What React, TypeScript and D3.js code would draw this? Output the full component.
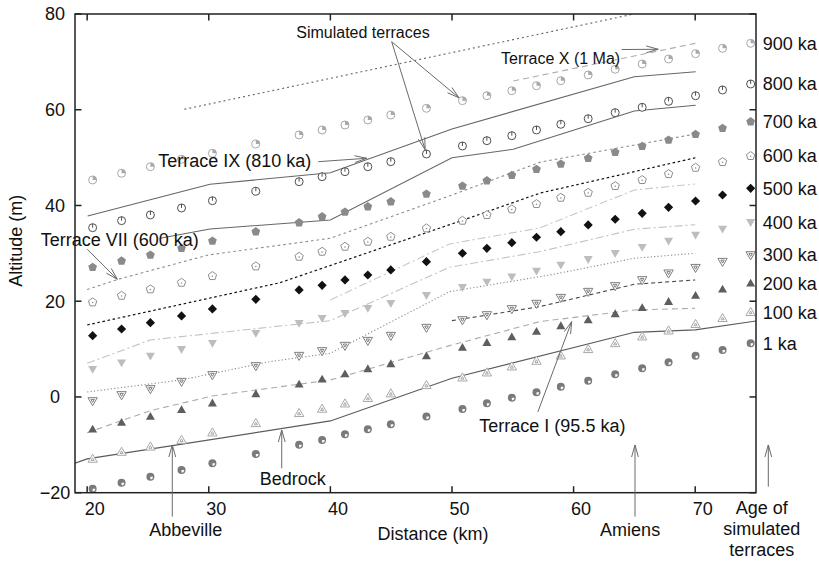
import React from "react";
import * as d3 from "d3";

const WIDTH = 819;
const HEIGHT = 562;
const FRAME = { left: 75, right: 756, top: 14, bottom: 492.7 };
const FONT = "'Liberation Sans', Arial, Helvetica, sans-serif";

// Axis ticks
const distanceTicks = [20, 30, 40, 50, 60, 70];
const altitudeTicks = [-20, 0, 20, 40, 60, 80];

// Model nodes along the valley (km)
const nodeKm = [
  20.45, 22.83, 25.2, 27.76, 30.3, 33.87, 37.43, 39.32, 41.2, 43.08, 44.97, 47.9,
  50.86, 52.87, 54.92, 56.95, 58.95, 61.2, 63.42, 65.64, 67.81, 70.03, 72.25, 74.56,
];

// Simulated terrace altitudes (m) at each node, by age
const sim1ka = [
  -19.2, -17.9, -16.65, -15.25, -13.85, -11.9, -10.0, -9.0, -7.8, -6.75, -5.7, -4.1,
  -2.5, -1.3, -0.15, 1.0, 2.15, 3.4, 4.74, 6.0, 7.25, 8.63, 9.8, 11.2,
];
const sim100ka = [
  -12.95, -11.5, -10.4, -9.0, -7.46, -5.5, -3.4, -2.5, -1.4, -0.27, 0.7, 2.44,
  4.03, 5.08, 6.33, 7.52, 8.63, 9.96, 11.2, 12.6, 13.85, 15.2, 16.44, 17.7,
];
const sim200ka = [
  -6.75, -5.37, -4.1, -2.7, -1.3, 0.63, 2.65, 3.7, 4.8, 5.85, 6.9, 8.56,
  10.3, 11.34, 12.53, 13.64, 14.83, 16.08, 17.34, 18.6, 19.9, 21.16, 22.5, 23.75,
];
const sim300ka = [
  -0.84, 0.42, 1.67, 3.2, 4.6, 6.48, 8.63, 9.61, 10.72, 11.76, 12.81, 14.48,
  16.08, 17.13, 18.38, 19.5, 20.74, 22.0, 23.19, 24.44, 25.84, 27.0, 28.26, 29.66,
];
const sim400ka = [
  5.79, 7.16, 8.56, 9.96, 11.22, 13.31, 15.4, 16.44, 17.48, 18.53, 19.57, 21.24,
  22.91, 24.02, 25.13, 26.32, 27.57, 28.76, 30.02, 31.27, 32.58, 33.84, 35.09, 36.49,
];
const sim500ka = [
  12.8, 14.2, 15.52, 16.92, 18.38, 20.4, 22.35, 23.33, 24.44, 25.48, 26.53, 28.26,
  30.02, 31.06, 32.23, 33.36, 34.53, 35.93, 37.12, 38.37, 39.62, 40.94, 42.19, 43.59,
];
const sim600ka = [
  19.78, 21.16, 22.5, 23.88, 25.27, 27.3, 29.3, 30.35, 31.4, 32.44, 33.48, 35.24,
  36.83, 38.02, 39.21, 40.31, 41.63, 42.67, 44.07, 45.33, 46.58, 47.9, 49.09, 50.34,
];
const sim700ka = [
  27.09, 28.41, 29.66, 31.06, 32.58, 34.53, 36.41, 37.66, 38.64, 39.75, 40.79, 42.4,
  44.07, 45.18, 46.31, 47.56, 48.67, 49.86, 51.11, 52.37, 53.68, 54.87, 56.13, 57.5,
];
const sim800ka = [
  35.36, 36.83, 38.02, 39.48, 41.0, 42.97, 44.97, 46.02, 47.06, 48.1, 49.15, 50.76,
  52.43, 53.54, 54.58, 55.77, 56.96, 58.13, 59.39, 60.51, 61.76, 62.93, 64.13, 65.38,
];
const sim900ka = [
  45.33, 46.73, 48.1, 49.65, 50.9, 52.85, 54.73, 55.77, 56.81, 57.86, 58.9, 60.3,
  61.89, 62.93, 63.98, 65.02, 66.07, 67.26, 68.45, 69.56, 70.6, 71.71, 72.84, 73.88,
];

const ageLabels = ["1 ka", "100 ka", "200 ka", "300 ka", "400 ka", "500 ka", "600 ka", "700 ka", "800 ka", "900 ka"];

// Observed profiles: distance (km) and altitude (m)
const bedrockKm = [19, 20, 40, 50, 65, 70, 75];
const bedrockAlt = [-13.85, -12.95, -5.01, 3.91, 13.51, 14.0, 15.87];
const terraceIKm = [20, 25.2, 30.3, 40, 49.8, 57.2, 65, 70];
const terraceIAlt = [-7.46, -2.86, 0.21, 3.55, 10.72, 15.73, 18.17, 18.53];
const terraceIIKm = [50, 57.2, 65, 70];
const terraceIIAlt = [15.94, 18.86, 23.54, 24.44];
const terraceIIIKm = [20, 27.76, 35, 40, 49.8, 58.05, 65, 70];
const terraceIIIAlt = [1.04, 3.55, 7.37, 9.13, 22.0, 25.48, 28.97, 30.02];
const terraceIVKm = [20, 25.2, 40, 49.8, 57.2, 65, 70];
const terraceIVAlt = [7.04, 11.91, 15.94, 27.09, 30.35, 35.03, 35.99];
const terraceVKm = [40, 49.8, 57.2, 65, 70];
const terraceVAlt = [20.26, 31.96, 35.3, 43.24, 44.49];
const terraceVIKm = [20, 35.86, 50.94, 57.27, 70.04];
const terraceVIAlt = [15.04, 23.87, 36.97, 42.61, 49.98];
const terraceVIIKm = [20, 22.55, 29.96, 40, 50, 57.3, 70.04];
const terraceVIIAlt = [22.45, 24.58, 29.66, 33.15, 42.19, 49.09, 54.93];
const terraceVIIIKm = [25.99, 30.1, 40, 50, 55.04, 64.99, 70.04];
const terraceVIIIAlt = [33.15, 35.09, 36.97, 49.98, 51.74, 59.74, 60.93];
const terraceIXKm = [20.04, 30.1, 40, 50, 64.99, 70.04];
const terraceIXAlt = [37.81, 44.43, 46.85, 55.98, 66.9, 67.95];
const terraceXKm = [55.04, 70.04];
const terraceXAlt = [66.01, 73.88];
const surfaceKm = [27.99, 64.97];
const surfaceAlt = [60.09, 80];

const x = d3.scaleLinear().domain([19, 75]).range([FRAME.left, FRAME.right]);
const y = d3.scaleLinear().domain([-20, 80]).range([FRAME.bottom, FRAME.top]);

type MarkerKind =
  | "discNotch"
  | "triUpOpen"
  | "triUpFilled"
  | "triDownOpen"
  | "triDownFilled"
  | "diamond"
  | "pentOpen"
  | "pentFilled"
  | "circleTick"
  | "circleQuarter";

const simulated: { values: number[]; kind: MarkerKind; color: string; label: string }[] = [
  { values: sim1ka, kind: "discNotch", color: "#7a7a7a", label: ageLabels[0] },
  { values: sim100ka, kind: "triUpOpen", color: "#a8a8a8", label: ageLabels[1] },
  { values: sim200ka, kind: "triUpFilled", color: "#5e5e5e", label: ageLabels[2] },
  { values: sim300ka, kind: "triDownOpen", color: "#7e7e7e", label: ageLabels[3] },
  { values: sim400ka, kind: "triDownFilled", color: "#bdbdbd", label: ageLabels[4] },
  { values: sim500ka, kind: "diamond", color: "#111111", label: ageLabels[5] },
  { values: sim600ka, kind: "pentOpen", color: "#8e8e8e", label: ageLabels[6] },
  { values: sim700ka, kind: "pentFilled", color: "#8a8a8a", label: ageLabels[7] },
  { values: sim800ka, kind: "circleTick", color: "#4f4f4f", label: ageLabels[8] },
  { values: sim900ka, kind: "circleQuarter", color: "#a8a8a8", label: ageLabels[9] },
];

const profiles: { km: number[]; alt: number[]; color: string; dash?: string; width: number }[] = [
  { km: bedrockKm, alt: bedrockAlt, color: "#5c5c5c", width: 1.2 },
  { km: terraceIKm, alt: terraceIAlt, color: "#ababab", dash: "6 4", width: 1.1 },
  { km: terraceIIKm, alt: terraceIIAlt, color: "#4a4a4a", dash: "4 3", width: 1.1 },
  { km: terraceIIIKm, alt: terraceIIIAlt, color: "#8a8a8a", dash: "1.2 2.2", width: 1.1 },
  { km: terraceIVKm, alt: terraceIVAlt, color: "#c2c2c2", dash: "8 3 2 3", width: 1.1 },
  { km: terraceVKm, alt: terraceVAlt, color: "#c8c8c8", dash: "8 3 2 3", width: 1.1 },
  { km: terraceVIKm, alt: terraceVIAlt, color: "#111111", dash: "2.6 2.6", width: 1.2 },
  { km: terraceVIIKm, alt: terraceVIIAlt, color: "#8a8a8a", dash: "2.6 3", width: 1.1 },
  { km: terraceVIIIKm, alt: terraceVIIIAlt, color: "#666666", width: 1.1 },
  { km: terraceIXKm, alt: terraceIXAlt, color: "#666666", width: 1.1 },
  { km: terraceXKm, alt: terraceXAlt, color: "#adadad", dash: "6 4", width: 1.1 },
  { km: surfaceKm, alt: surfaceAlt, color: "#666666", dash: "2 3", width: 1.1 },
];

const lineGen = d3
  .line<[number, number]>()
  .x((d) => x(d[0]))
  .y((d) => y(d[1]));

function polygon(cx: number, cy: number, r: number, n: number, rot: number) {
  const pts: string[] = [];
  for (let i = 0; i < n; i++) {
    const a = rot + (i * 2 * Math.PI) / n;
    pts.push(`${(cx + r * Math.cos(a)).toFixed(2)},${(cy + r * Math.sin(a)).toFixed(2)}`);
  }
  return pts.join(" ");
}

const UP = -Math.PI / 2;
const DOWN = Math.PI / 2;

function Marker({ kind, cx, cy, color }: { kind: MarkerKind; cx: number; cy: number; color: string }) {
  const r = 4;
  switch (kind) {
    case "discNotch":
      return (
        <g>
          <circle cx={cx} cy={cy} r={r} fill={color} />
          <path d={`M${cx},${cy} L${cx + 2.6},${cy} A2.6,2.6 0 0 1 ${cx},${cy + 2.6} Z`} fill="#fff" />
        </g>
      );
    case "circleQuarter":
      return (
        <g>
          <circle cx={cx} cy={cy} r={r} fill="#fff" stroke={color} strokeWidth={1} />
          <path d={`M${cx},${cy} L${cx},${cy - r} A${r},${r} 0 0 1 ${cx + r},${cy} Z`} fill={color} />
        </g>
      );
    case "circleTick":
      return (
        <g stroke={color} strokeWidth={1} fill="#fff">
          <circle cx={cx} cy={cy} r={r} />
          <line x1={cx} y1={cy - r} x2={cx} y2={cy} />
        </g>
      );
    case "triUpOpen":
      return (
        <g stroke={color} strokeWidth={1} fill="#fff">
          <polygon points={polygon(cx, cy + 0.6, 5.4, 3, UP)} />
          <polygon points={polygon(cx, cy + 0.6, 1.8, 3, UP)} />
        </g>
      );
    case "triUpFilled":
      return <polygon points={polygon(cx, cy + 0.6, 5.2, 3, UP)} fill={color} />;
    case "triDownOpen":
      return (
        <g stroke={color} strokeWidth={1} fill="#fff">
          <polygon points={polygon(cx, cy - 0.6, 5.4, 3, DOWN)} />
          <polygon points={polygon(cx, cy - 0.6, 2, 3, DOWN)} />
        </g>
      );
    case "triDownFilled":
      return <polygon points={polygon(cx, cy - 0.6, 5.2, 3, DOWN)} fill={color} />;
    case "diamond":
      return <polygon points={polygon(cx, cy, 4.6, 4, UP)} fill={color} />;
    case "pentOpen":
      return (
        <g>
          <polygon points={polygon(cx, cy, 4.4, 5, UP)} fill="#fff" stroke={color} strokeWidth={1} />
          <circle cx={cx} cy={cy + 0.3} r={0.8} fill={color} />
        </g>
      );
    case "pentFilled":
      return <polygon points={polygon(cx, cy, 4.6, 5, UP)} fill={color} />;
    default:
      return null;
  }
}

function Arrow({ x1, y1, x2, y2 }: { x1: number; y1: number; x2: number; y2: number }) {
  const ang = Math.atan2(y2 - y1, x2 - x1);
  const head = 12;
  const spread = 3.4;
  const bx = x2 - head * Math.cos(ang);
  const by = y2 - head * Math.sin(ang);
  const px = -Math.sin(ang) * spread;
  const py = Math.cos(ang) * spread;
  return (
    <g stroke="#6a6a6a" strokeWidth={1} fill="none">
      <line x1={x1} y1={y1} x2={x2} y2={y2} />
      <polyline points={`${bx + px},${by + py} ${x2},${y2} ${bx - px},${by - py}`} />
    </g>
  );
}

// Arrow that stops at the rim of a marker
function arrowToMarker(fromKm: number, fromAlt: number, toKm: number, toAlt: number) {
  const x1 = x(fromKm);
  const y1 = y(fromAlt);
  const cx = x(toKm);
  const cy = y(toAlt);
  const d = Math.hypot(cx - x1, cy - y1);
  const k = (d - 4.5) / d;
  return <Arrow x1={x1} y1={y1} x2={x1 + (cx - x1) * k} y2={y1 + (cy - y1) * k} />;
}

export default function App() {
  const lastIdx = nodeKm.length - 1;
  return (
    <svg
      width={WIDTH}
      height={HEIGHT}
      viewBox={`0 0 ${WIDTH} ${HEIGHT}`}
      style={{ position: "absolute", left: 0, top: 0, display: "block", background: "#fff" }}
      fontFamily={FONT}
    >
      <defs>
        <clipPath id="plot-area">
          <rect x={FRAME.left} y={FRAME.top} width={FRAME.right - FRAME.left} height={FRAME.bottom - FRAME.top} />
        </clipPath>
      </defs>
      <rect x={0} y={0} width={WIDTH} height={HEIGHT} fill="#fff" />

      {/* observed terrace profiles and bedrock */}
      <g clipPath="url(#plot-area)" fill="none">
        {profiles.map((p, i) => (
          <path
            key={i}
            d={lineGen(d3.zip(p.km, p.alt) as [number, number][]) || ""}
            stroke={p.color}
            strokeWidth={p.width}
            strokeDasharray={p.dash}
          />
        ))}
      </g>

      {/* simulated terraces */}
      <g>
        {simulated.map((s, si) =>
          s.values.map((v, i) => (
            <Marker key={`${si}-${i}`} kind={s.kind} cx={x(nodeKm[i])} cy={y(v)} color={s.color} />
          ))
        )}
      </g>

      {/* age labels beside the last node */}
      <g fontSize={18} fill="#111">
        {simulated.map((s, si) => (
          <text key={si} x={762.7} y={y(s.values[lastIdx])} dy="0.35em">
            {s.label}
          </text>
        ))}
      </g>

      {/* frame and ticks */}
      <g stroke="#222" strokeWidth={1.5} fill="none">
        <rect x={FRAME.left} y={FRAME.top} width={FRAME.right - FRAME.left} height={FRAME.bottom - FRAME.top} />
        {distanceTicks.map((t) => (
          <g key={`xt${t}`}>
            <line x1={x(t)} x2={x(t)} y1={FRAME.bottom} y2={FRAME.bottom - 6.5} />
            <line x1={x(t)} x2={x(t)} y1={FRAME.top} y2={FRAME.top + 6.5} />
          </g>
        ))}
        {altitudeTicks.map((t) => (
          <g key={`yt${t}`}>
            <line x1={FRAME.left} x2={FRAME.left + 6.5} y1={y(t)} y2={y(t)} />
            <line x1={FRAME.right} x2={FRAME.right - 6.5} y1={y(t)} y2={y(t)} />
          </g>
        ))}
      </g>

      <g fontSize={18} fill="#111">
        {distanceTicks.map((t) => (
          <text key={`xl${t}`} x={x(t) - 2.5} y={515}>
            {t}
          </text>
        ))}
        {altitudeTicks.map((t) => (
          <text key={`yl${t}`} x={55} y={y(t)} dy="0.35em" textAnchor="middle">
            {t < 0 ? `\u2212${Math.abs(t)}` : t}
          </text>
        ))}
        <text x={433} y={540} textAnchor="middle">
          Distance (km)
        </text>
        <text transform={`translate(22,${240.7}) rotate(-90)`} textAnchor="middle">
          Altitude (m)
        </text>
      </g>

      {/* annotations */}
      <g fontSize={18} fill="#111">
        <text x={x(28.1)} y={536} textAnchor="middle">Abbeville</text>
        <text x={x(64.65)} y={536} textAnchor="middle">Amiens</text>
        <text x={761.7} y={514} textAnchor="middle">Age of</text>
        <text x={761.7} y={535} textAnchor="middle">simulated</text>
        <text x={761.7} y={556} textAnchor="middle">terraces</text>
        <text x={x(34.2)} y={y(-18.4)}>Bedrock</text>
        <text x={x(52.25)} y={y(-7.3)}>Terrace I (95.5 ka)</text>
        <text x={x(16.18)} y={y(31.54)}>Terrace VII (600 ka)</text>
        <text x={x(25.85)} y={y(48.04)}>Terrace IX (810 ka)</text>
      </g>
      <g fontSize={16} fill="#111">
        <text x={x(42.68)} y={y(74.99)} textAnchor="middle">Simulated terraces</text>
        <text x={x(54.03)} y={y(69.56)}>Terrace X (1 Ma)</text>
      </g>

      <Arrow x1={x(27.0)} y1={y(-25.0)} x2={x(27.0)} y2={y(-10.03)} />
      <Arrow x1={x(65.05)} y1={y(-25.0)} x2={x(65.05)} y2={y(-10.03)} />
      <Arrow x1={768.3} y1={y(-18.75)} x2={768.3} y2={y(-10.03)} />
      <Arrow x1={x(36.0)} y1={y(-14.9)} x2={x(36.0)} y2={y(-6.9)} />
      <Arrow x1={x(57.06)} y1={y(-3.13)} x2={x(59.84)} y2={y(15.73)} />
      <Arrow x1={x(20.01)} y1={y(30.85)} x2={x(22.48)} y2={y(24.58)} />
      <Arrow x1={x(39.0)} y1={y(49.15)} x2={x(42.99)} y2={y(49.86)} />
      <Arrow x1={x(63.96)} y1={y(72.58)} x2={x(66.96)} y2={y(72.63)} />
      {arrowToMarker(45.04, 74.21, nodeKm[12], sim900ka[12])}
      {arrowToMarker(45.04, 74.21, nodeKm[11], sim800ka[11])}
    </svg>
  );
}
